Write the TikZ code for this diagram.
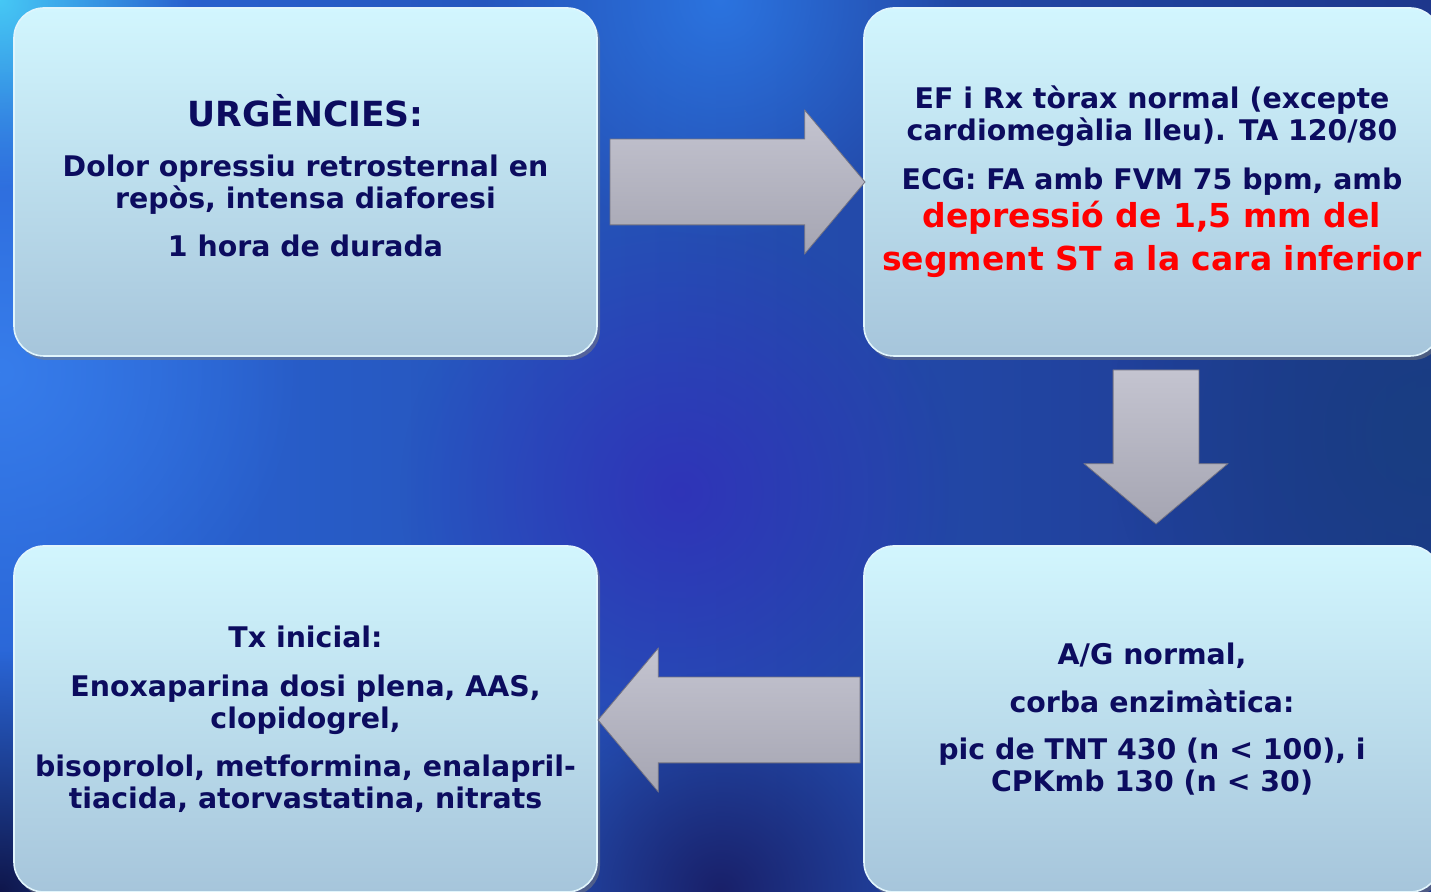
\documentclass[tikz,border=0pt]{standalone}
\usepackage{fontspec}
\setmainfont{DejaVu Sans}
\usetikzlibrary{shapes.arrows,shadows,fadings}

\definecolor{ink}{RGB}{12,12,95}
\definecolor{alert}{RGB}{255,0,0}
\definecolor{boxtop}{RGB}{210,246,254}
\definecolor{boxbot}{RGB}{166,197,219}
\definecolor{boxrim}{RGB}{225,245,252}
\definecolor{arrtop}{RGB}{196,196,208}
\definecolor{arrbot}{RGB}{165,165,178}
\definecolor{arrrim}{RGB}{115,115,130}
\definecolor{bgleft}{RGB}{42,102,215}
\definecolor{bgright}{RGB}{30,55,140}

\tikzfading[name=blobfade, inner color=transparent!0, outer color=transparent!100]

\begin{document}
\begin{tikzpicture}[x=1pt,y=1pt,
    panel/.style={rounded corners=15pt, minimum width=291.5pt, minimum height=174pt,
        top color=boxtop, bottom color=boxbot, draw=boxrim, line width=0.8pt,
        align=center, text=ink, font=\bfseries\fontsize{14.2}{16}\selectfont,
        drop shadow={opacity=0.5, shadow xshift=1.5pt, shadow yshift=-2pt}},
    bigarrow/.style={single arrow, minimum height=#1, inner sep=21.25pt,
        single arrow head extend=14.5pt, single arrow tip angle=100,
        top color=arrtop, bottom color=arrbot, draw=arrrim, line width=0.4pt},
    blob/.style={path fading=blobfade}]
    % background
    \useasboundingbox (0,0) rectangle (715.5,446);
    \fill[left color=bgleft, right color=bgright] (0,0) rectangle (715.5,446);
    \fill[blob, color={rgb,255:red,70;green,200;blue,245}] (0,446) circle (95);
    \fill[blob, color={rgb,255:red,55;green,125;blue,235}] (0,260) circle (150);
    \fill[blob, color={rgb,255:red,50;green,45;blue,185}, opacity=0.8] (340,200) circle (140);
    \fill[blob, color={rgb,255:red,45;green,125;blue,235}, opacity=0.8] (360,446) circle (120);
    \fill[blob, color={rgb,255:red,25;green,32;blue,105}] (360,0) circle (110);
    \fill[blob, color={rgb,255:red,15;green,22;blue,75}] (0,0) circle (120);
    \fill[blob, color={rgb,255:red,25;green,62;blue,130}] (715,230) circle (160);

    % boxes
    \node[panel, text depth=6.5pt] (urg) at (152.75,355) {{\fontsize{17.3}{20}\selectfont URGÈNCIES:}\\[9pt]
        Dolor opressiu retrosternal en\\ repòs, intensa diaforesi\\[8pt] 1 hora de durada};
    \node[panel, minimum width=288pt] (ecg) at (576,355) {EF i Rx tòrax normal (excepte\\
        cardiomegàlia lleu). TA 120/80\\[8.5pt] ECG: FA amb FVM 75 bpm, amb\\[2pt]
        {\color{alert}\fontsize{16.5}{20}\selectfont depressió de 1,5 mm del}\\[5.5pt]
        {\color{alert}\fontsize{16.5}{20}\selectfont segment ST a la cara inferior}};
    \node[panel, minimum width=288pt, minimum height=173pt] (lab) at (576,86.5) {A/G normal,\\[8pt]
        corba enzimàtica:\\[7.5pt] pic de TNT 430 (n < 100), i\\ CPKmb 130 (n < 30)};
    \node[panel, minimum height=173pt] (tx) at (152.75,86.5) {Tx inicial:\\[8.5pt]
        Enoxaparina dosi plena, AAS,\\ clopidogrel,\\[8pt]
        bisoprolol, metformina, enalapril-\\ tiacida, atorvastatina, nitrats};

    % arrows
    \node[bigarrow=127.5pt] (go1) at (359.75,355) {};
    \node[bigarrow=77pt, shape border rotate=270] (go2) at (578,231.5) {};
    \node[bigarrow=131pt, shape border rotate=180] (go3) at (373.5,86) {};
\end{tikzpicture}
\end{document}
